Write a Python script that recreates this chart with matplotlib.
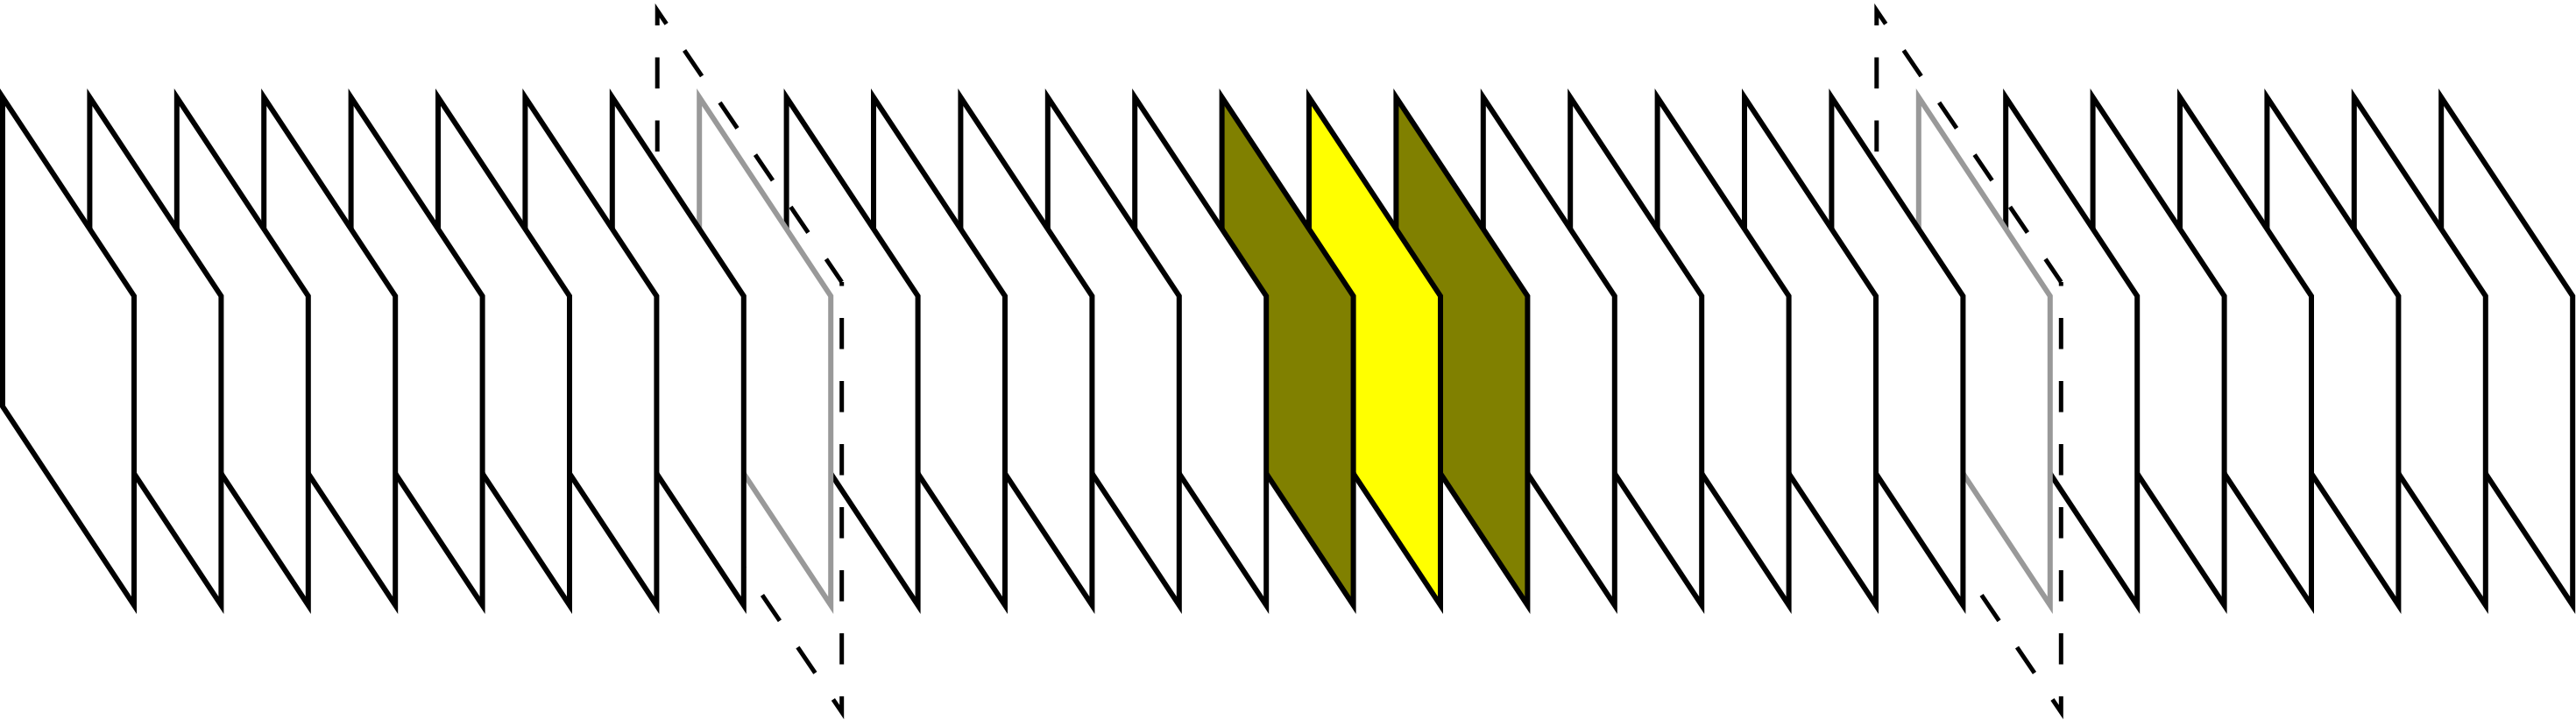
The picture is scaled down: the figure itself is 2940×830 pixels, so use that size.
import matplotlib
matplotlib.use("Agg")
import matplotlib.pyplot as plt
from matplotlib.patches import Polygon
from matplotlib.lines import Line2D

plt.rcParams["lines.scale_dashes"] = False

# ---- data -------------------------------------------------------------
N_PANELS = 29
panel_fill = ["white"] * N_PANELS
panel_fill[14] = "#808000"
panel_fill[15] = "#FFFF00"
panel_fill[16] = "#808000"
panel_edge = ["black"] * N_PANELS
panel_edge[8] = "#999999"
panel_edge[22] = "#999999"
framed_panels = [8, 22]          # panels surrounded by a dashed frame

# ---- layout (pixel units of the 2940x830 canvas) -----------------------
W, H = 2940, 830
X0, STEP = 3.0, 99.4             # left of first panel, spacing
PW, PH, DROP = 150.0, 353.0, 227.0
TOP = 111.0
LW_PX = 6.0
LW_DASH_PX = 5.0
PT = 72.0 / 100.0                # px -> pt at dpi 100

fig = plt.figure(figsize=(W / 100, H / 100), dpi=100)
ax = fig.add_axes([0, 0, 1, 1])
ax.set_xlim(0, W)
ax.set_ylim(H, 0)
ax.axis("off")

for i in range(N_PANELS):
    x = X0 + STEP * i
    pts = [(x, TOP), (x + PW, TOP + DROP), (x + PW, TOP + DROP + PH), (x, TOP + PH)]
    ax.add_patch(Polygon(pts, closed=True, facecolor=panel_fill[i],
                         edgecolor=panel_edge[i], linewidth=LW_PX * PT,
                         joinstyle="miter", zorder=100 - i))

# dashed frames
FL, FR = 48.0, 12.5               # frame offsets left/right of panel
F_TOP, F_DROP, F_H = 12.0, 310.0, 491.0
DASH_ON, DASH_OFF = 35.5, 36.5
for k in framed_panels:
    x = X0 + STEP * k
    xl, xr = x - FL, x + PW + FR
    tl = (xl, F_TOP)
    tr = (xr, F_TOP + F_DROP)
    br = (xr, F_TOP + F_DROP + F_H)
    bl = (xl, F_TOP + F_H)
    # path A: BL -> TL -> TR, path B: TR -> BR -> BL
    for path, off in (((bl, tl, tr), 30.0), ((tr, br, bl), 31.0)):
        xs = [p[0] for p in path]
        ys = [p[1] for p in path]
        ln = Line2D(xs, ys, color="black", linewidth=LW_DASH_PX * PT,
                    linestyle=(off * PT, (DASH_ON * PT, DASH_OFF * PT)),
                    dash_joinstyle="miter", dash_capstyle="butt",
                    zorder=100 - k - 0.5)
        ax.add_line(ln)

fig.savefig("out.png", dpi=100, facecolor="white")
